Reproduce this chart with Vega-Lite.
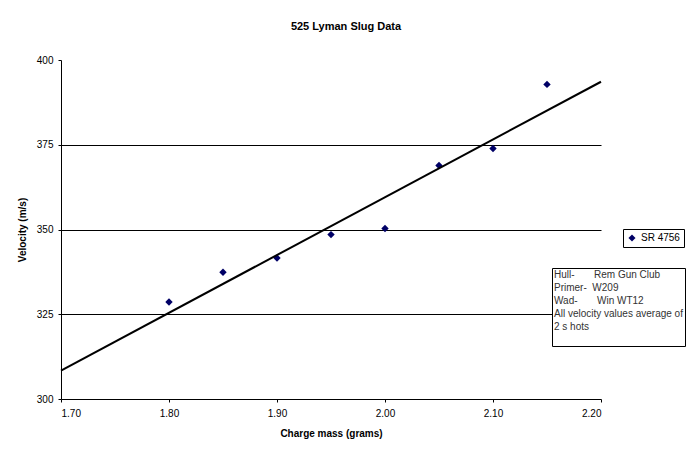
{
  "$schema": "https://vega.github.io/schema/vega-lite/v6.json",
  "description": "525 Lyman Slug Data: velocity against charge mass, with a linear trendline.",
  "width": 540,
  "height": 339,
  "autosize": {"type": "none"},
  "padding": {"left": 61, "top": 60, "right": 91, "bottom": 57},
  "background": "white",
  "title": {
    "text": "525 Lyman Slug Data",
    "font": "Liberation Sans",
    "fontSize": 11,
    "fontWeight": "bold",
    "color": "black",
    "anchor": "middle",
    "dx": 15,
    "offset": 23
  },
  "config": {
    "view": {"stroke": null},
    "font": "Liberation Sans",
    "axis": {
      "domainColor": "black",
      "tickColor": "black",
      "tickSize": 3,
      "labelColor": "black",
      "labelFontSize": 10,
      "labelFont": "Liberation Sans",
      "titleFont": "Liberation Sans",
      "titleFontSize": 10,
      "titleFontWeight": "bold",
      "titleColor": "black"
    }
  },
  "data": {
    "values": [
      {"charge": 1.80, "velocity": 328.6},
      {"charge": 1.85, "velocity": 337.4},
      {"charge": 1.90, "velocity": 341.6},
      {"charge": 1.95, "velocity": 348.5},
      {"charge": 2.00, "velocity": 350.3},
      {"charge": 2.05, "velocity": 368.9},
      {"charge": 2.10, "velocity": 373.9},
      {"charge": 2.15, "velocity": 392.8}
    ]
  },
  "layer": [
    {
      "mark": {"type": "point", "shape": "diamond", "filled": true, "size": 55, "opacity": 1},
      "encoding": {
        "x": {
          "field": "charge",
          "type": "quantitative",
          "title": "Charge mass (grams)",
          "scale": {"domain": [1.7, 2.2], "nice": false, "zero": false},
          "axis": {"values": [1.7, 1.8, 1.9, 2.0, 2.1, 2.2], "format": ".2f", "grid": false, "labelPadding": 6, "titlePadding": 10}
        },
        "y": {
          "field": "velocity",
          "type": "quantitative",
          "title": "Velocity (m/s)",
          "scale": {"domain": [300, 400], "nice": false, "zero": false},
          "axis": {
            "values": [300, 325, 350, 375, 400],
            "grid": true,
            "gridColor": {"condition": {"test": "datum.value == 300 || datum.value == 400", "value": "transparent"}, "value": "black"},
            "gridOpacity": 1,
            "labelPadding": 5,
            "titlePadding": 9
          }
        },
        "color": {
          "datum": "SR 4756",
          "scale": {"range": ["#000066"]},
          "legend": {
            "title": null,
            "orient": "none",
            "legendX": 562,
            "legendY": 169,
            "strokeColor": "black",
            "fillColor": "white",
            "padding": 4,
            "symbolType": "diamond",
            "symbolSize": 50,
            "labelFontSize": 10,
            "labelColor": "black",
            "labelFont": "Liberation Sans"
          }
        },
        "shape": {
          "datum": "notes",
          "scale": {"range": ["diamond"]},
          "legend": {
            "title": ["Hull-\u00a0\u00a0\u00a0\u00a0\u00a0\u00a0\u00a0Rem Gun Club", "Primer-\u00a0\u00a0W209", "Wad-\u00a0\u00a0\u00a0\u00a0\u00a0\u00a0\u00a0Win WT12", "All velocity values average of", "2 s hots"],
            "orient": "none",
            "legendX": 491,
            "legendY": 208,
            "strokeColor": "black",
            "fillColor": "white",
            "padding": 2,
            "titleFont": "Liberation Sans",
            "titleFontSize": 10,
            "titleFontWeight": "normal",
            "titleColor": "#333333",
            "titleLineHeight": 13,
            "titlePadding": 2,
            "titleLimit": 300,
            "symbolOpacity": 0,
            "symbolSize": 0,
            "labelExpr": "''",
            "labelFontSize": 10
          }
        }
      }
    },
    {
      "transform": [
        {"regression": "velocity", "on": "charge", "extent": [1.7, 2.2]}
      ],
      "mark": {"type": "line", "color": "black", "strokeWidth": 2},
      "encoding": {
        "x": {"field": "charge", "type": "quantitative"},
        "y": {"field": "velocity", "type": "quantitative"}
      }
    }
  ]
}
